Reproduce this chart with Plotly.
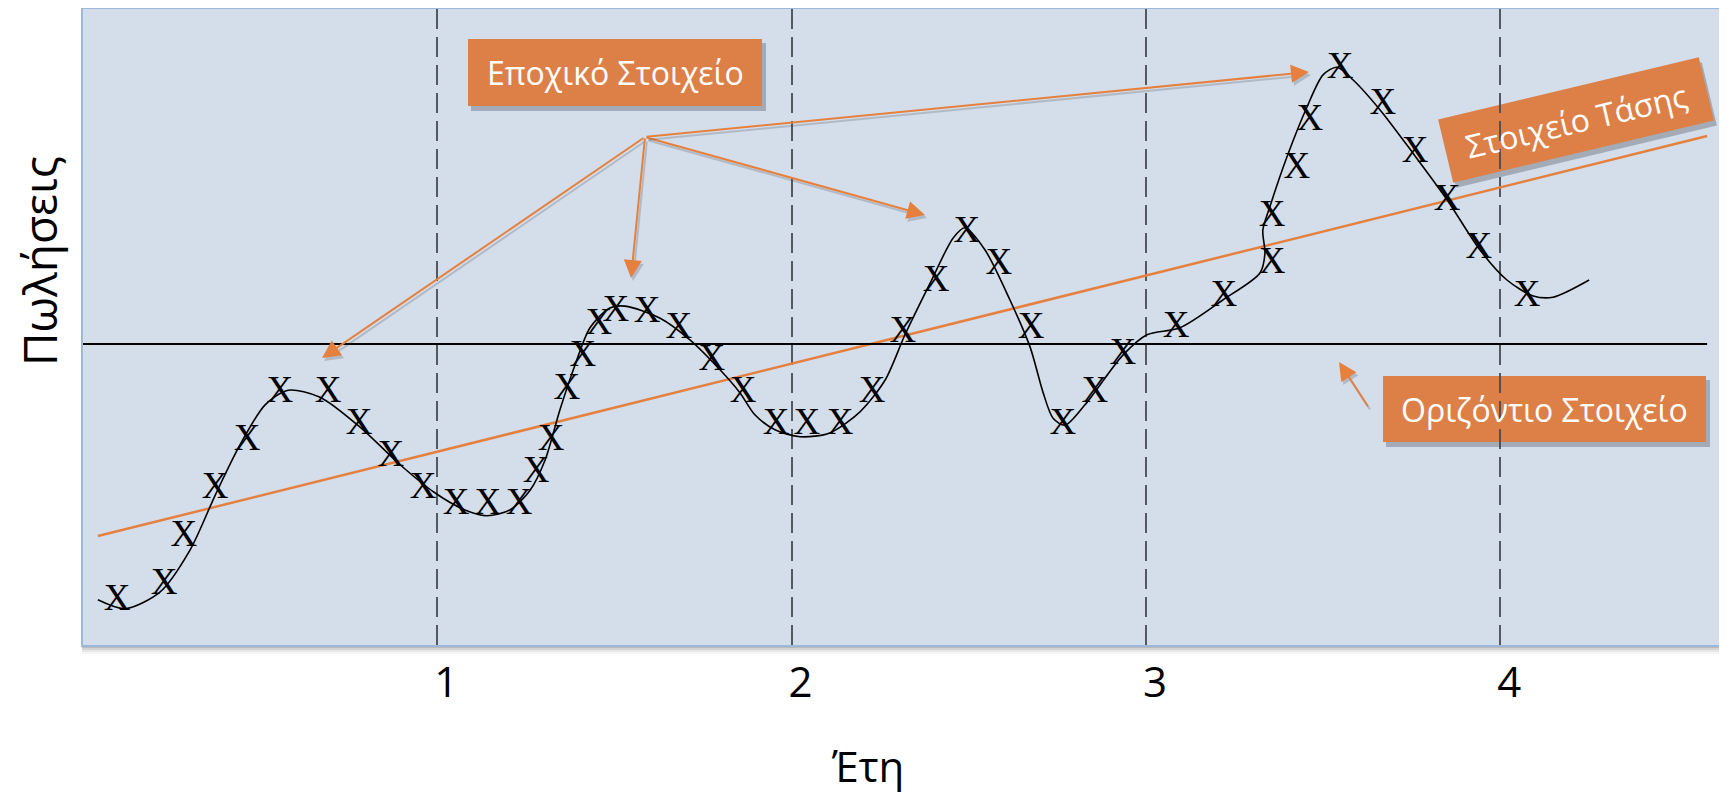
import math
import plotly.graph_objects as go

# ---------------- data ----------------
year_ticks = [1, 2, 3, 4]
year_labels = ["1", "2", "3", "4"]

obs_x = [0.096, 0.229, 0.285, 0.373, 0.463, 0.556, 0.692, 0.779, 0.869, 0.960,
         1.053, 1.143, 1.231, 1.279, 1.321, 1.366, 1.411, 1.456, 1.504, 1.592,
         1.682, 1.775, 1.863, 1.956, 2.043, 2.137, 2.227, 2.314, 2.408, 2.495,
         2.585, 2.676, 2.766, 2.856, 2.935, 3.085, 3.220, 3.356, 3.356, 3.426,
         3.463, 3.548, 3.669, 3.760, 3.850, 3.940, 4.076]
obs_y = [6.9, 9.4, 17.0, 24.5, 32.0, 39.6, 39.6, 34.5, 29.5, 24.5,
         22.0, 22.0, 22.0, 27.0, 32.0, 40.0, 45.2, 50.2, 52.3, 52.1,
         49.6, 44.6, 39.6, 34.5, 34.5, 34.5, 39.6, 49.0, 57.1, 64.7,
         59.7, 49.6, 34.5, 39.6, 45.5, 49.8, 54.6, 59.8, 67.3, 74.7,
         82.3, 90.4, 84.8, 77.2, 69.7, 62.2, 54.6]

curve_x = [0.042, 0.119, 0.217, 0.302, 0.373, 0.443, 0.514, 0.579, 0.669, 0.782,
           0.895, 0.993, 1.078, 1.140, 1.205, 1.262, 1.304, 1.346, 1.389, 1.431,
           1.487, 1.530, 1.629, 1.713, 1.798, 1.854, 1.897, 1.953, 2.024, 2.108,
           2.193, 2.264, 2.320, 2.391, 2.456, 2.489, 2.546, 2.616, 2.673, 2.710,
           2.738, 2.772, 2.828, 2.935, 3.003, 3.096, 3.218, 3.322, 3.336, 3.330,
           3.350, 3.398, 3.455, 3.500, 3.539, 3.585, 3.661, 3.754, 3.850, 3.943,
           4.019, 4.093, 4.149, 4.251]
curve_y = [7.1, 5.7, 8.3, 14.9, 23.5, 31.4, 37.7, 40.0, 38.9, 34.2,
           28.3, 23.9, 21.2, 20.3, 21.2, 24.3, 29.0, 36.9, 44.0, 49.8,
           52.9, 53.2, 51.3, 47.9, 43.2, 39.6, 36.1, 33.8, 32.7, 33.3,
           36.6, 41.6, 48.7, 56.8, 63.9, 65.5, 62.0, 54.2, 46.8, 39.6,
           35.6, 34.5, 37.7, 45.5, 48.7, 49.8, 54.2, 58.4, 61.5, 65.1,
           68.8, 76.6, 84.5, 89.5, 90.7, 88.7, 84.0, 77.2, 69.9, 62.0,
           57.3, 54.8, 54.6, 57.3]

trend_x = [0.042, 4.584]
trend_y = [17.1, 79.9]

level_x = [0.0, 4.584]
level_y = [47.25, 47.25]

# ---------------- layout helpers (page pixel coordinates) ----------------
OFF = 8                      # default body margin of the html page
PL, PT, PR, PB = 83, 9, 1724, 645   # plot area on the page
W, H = 1719, 791
ML, MT = PL - OFF, PT - OFF
MR, MB = OFF + W - PR, OFF + H - PB
PW, PH = PR - PL, PB - PT
XR = [0, PW / 354.3]
YR = [0, 100 * PH / 637]


def dx(px):
    return XR[0] + (px - PL) / PW * (XR[1] - XR[0])


def dy(py):
    return YR[0] + (PB - py) / PH * (YR[1] - YR[0])


def px_(px):
    return (px - PL) / PW


def py_(py):
    return (PB - py) / PH


ORANGE_BOX = "#DD8048"
ORANGE_LINE = "#E5803F"
FONT = "Open Sans"

fig = go.Figure()

fig.add_trace(go.Scatter(x=trend_x, y=trend_y, mode="lines",
                         line=dict(color=ORANGE_LINE, width=2.5),
                         hoverinfo="skip", showlegend=False))
fig.add_trace(go.Scatter(x=level_x, y=level_y, mode="lines",
                         line=dict(color="black", width=2.2),
                         hoverinfo="skip", showlegend=False))
fig.add_trace(go.Scatter(x=curve_x, y=curve_y, mode="lines",
                         line=dict(color="black", width=1.6, shape="spline", smoothing=0.8),
                         hoverinfo="skip", showlegend=False))
fig.add_trace(go.Scatter(x=obs_x, y=obs_y, mode="text", text=["X"] * len(obs_x),
                         textposition="middle center",
                         textfont=dict(family="Liberation Serif", size=37, color="black"),
                         showlegend=False))

shapes = []
# plot-area drop shadow
for i, op in enumerate([0.35, 0.22, 0.12, 0.05]):
    shapes.append(dict(type="rect", xref="paper", yref="paper",
                       x0=px_(PL - 1), x1=px_(PR + 2), y0=py_(PB + 1 + i * 2), y1=py_(PB + 3 + i * 2),
                       fillcolor=f"rgba(60,60,60,{op})", line=dict(width=0), layer="below"))


def box(x0, y0, x1, y1):
    shapes.append(dict(type="rect", xref="x", yref="y",
                       x0=dx(x0 + 3), x1=dx(x1 + 4), y0=dy(y0 + 4), y1=dy(y1 + 5),
                       fillcolor="rgba(40,40,50,0.28)", line=dict(width=0), layer="below"))
    shapes.append(dict(type="rect", xref="x", yref="y",
                       x0=dx(x0), x1=dx(x1), y0=dy(y0), y1=dy(y1),
                       fillcolor=ORANGE_BOX, line=dict(width=0), layer="below"))


box(468, 39, 762, 106)
box(1383, 376, 1706, 442)

# rotated box for trend label
cx, cy, bw, bh, ang = 1576, 120, 268, 65, -13.4
a = math.radians(ang)
ca, sa = math.cos(a), math.sin(a)


def rot_path(ox, oy):
    pts = []
    for ux, uy in [(-bw / 2, -bh / 2), (bw / 2, -bh / 2), (bw / 2, bh / 2), (-bw / 2, bh / 2)]:
        sx = cx + ox + ux * ca - uy * sa
        sy = cy + oy + ux * sa + uy * ca
        pts.append((dx(sx), dy(sy)))
    return "M " + " L ".join(f"{p[0]:.5f},{p[1]:.4f}" for p in pts) + " Z"


shapes.append(dict(type="path", xref="x", yref="y", path=rot_path(3, 5),
                   fillcolor="rgba(40,40,50,0.28)", line=dict(width=0), layer="below"))
shapes.append(dict(type="path", xref="x", yref="y", path=rot_path(0, 0),
                   fillcolor=ORANGE_BOX, line=dict(width=0), layer="below"))

annotations = []
annotations.append(dict(x=dx(615), y=dy(72.5), xref="x", yref="y", text="Εποχικό Στοιχείο",
                        showarrow=False, font=dict(family=FONT, size=32, color="white")))
annotations.append(dict(x=dx(1544), y=dy(409), xref="x", yref="y", text="Οριζόντιο Στοιχείο",
                        showarrow=False, font=dict(family=FONT, size=32, color="white")))
annotations.append(dict(x=dx(cx), y=dy(cy), xref="x", yref="y", text="Στοιχείο Τάσης",
                        textangle=ang, showarrow=False, font=dict(family=FONT, size=32, color="white")))

arrows = [((645, 137), (322, 358)), ((645, 137), (631, 278)), ((645, 137), (925, 215)),
          ((645, 137), (1309, 72)), ((1369, 408), (1339, 362))]
for (tx, ty), (hx, hy) in arrows:
    annotations.append(dict(x=dx(hx + 2), y=dy(hy + 3), ax=dx(tx + 2), ay=dy(ty + 3),
                            xref="x", yref="y", axref="x", ayref="y", text="",
                            showarrow=True, arrowhead=2, arrowsize=1.8, arrowwidth=2,
                            arrowcolor="rgba(60,60,70,0.22)"))
    annotations.append(dict(x=dx(hx), y=dy(hy), ax=dx(tx), ay=dy(ty),
                            xref="x", yref="y", axref="x", ayref="y", text="",
                            showarrow=True, arrowhead=2, arrowsize=1.8, arrowwidth=2,
                            arrowcolor=ORANGE_LINE))

# axis titles
annotations.append(dict(x=px_(39), y=py_(261), xref="paper", yref="paper", text="Πωλήσεις",
                        textangle=-90, showarrow=False, xanchor="center", yanchor="middle",
                        font=dict(family=FONT, size=46, color="black")))
annotations.append(dict(x=px_(867), y=py_(766), xref="paper", yref="paper", text="Έτη",
                        showarrow=False, xanchor="center", yanchor="middle",
                        font=dict(family=FONT, size=42, color="black")))

fig.update_layout(
    width=W, height=H,
    margin=dict(l=ML, r=MR, t=MT, b=MB, autoexpand=False),
    paper_bgcolor="white", plot_bgcolor="#D3DEEA",
    showlegend=False,
    shapes=shapes, annotations=annotations,
    xaxis=dict(range=XR, tickvals=year_ticks, ticktext=year_labels,
               showgrid=True, gridcolor="rgba(70,74,82,0.9)", gridwidth=2, griddash="20px,8px",
               zeroline=False, showline=True, linecolor="#9DB8D8", linewidth=2, mirror=True,
               ticks="", ticklabelstandoff=0, ticklabelshift=9,
               tickfont=dict(family=FONT, size=42, color="black"), fixedrange=True),
    yaxis=dict(range=YR, showgrid=False, showticklabels=False, zeroline=False,
               showline=True, linecolor="#9DB8D8", linewidth=2, mirror=True, fixedrange=True),
)

fig.write_html("out.html")
